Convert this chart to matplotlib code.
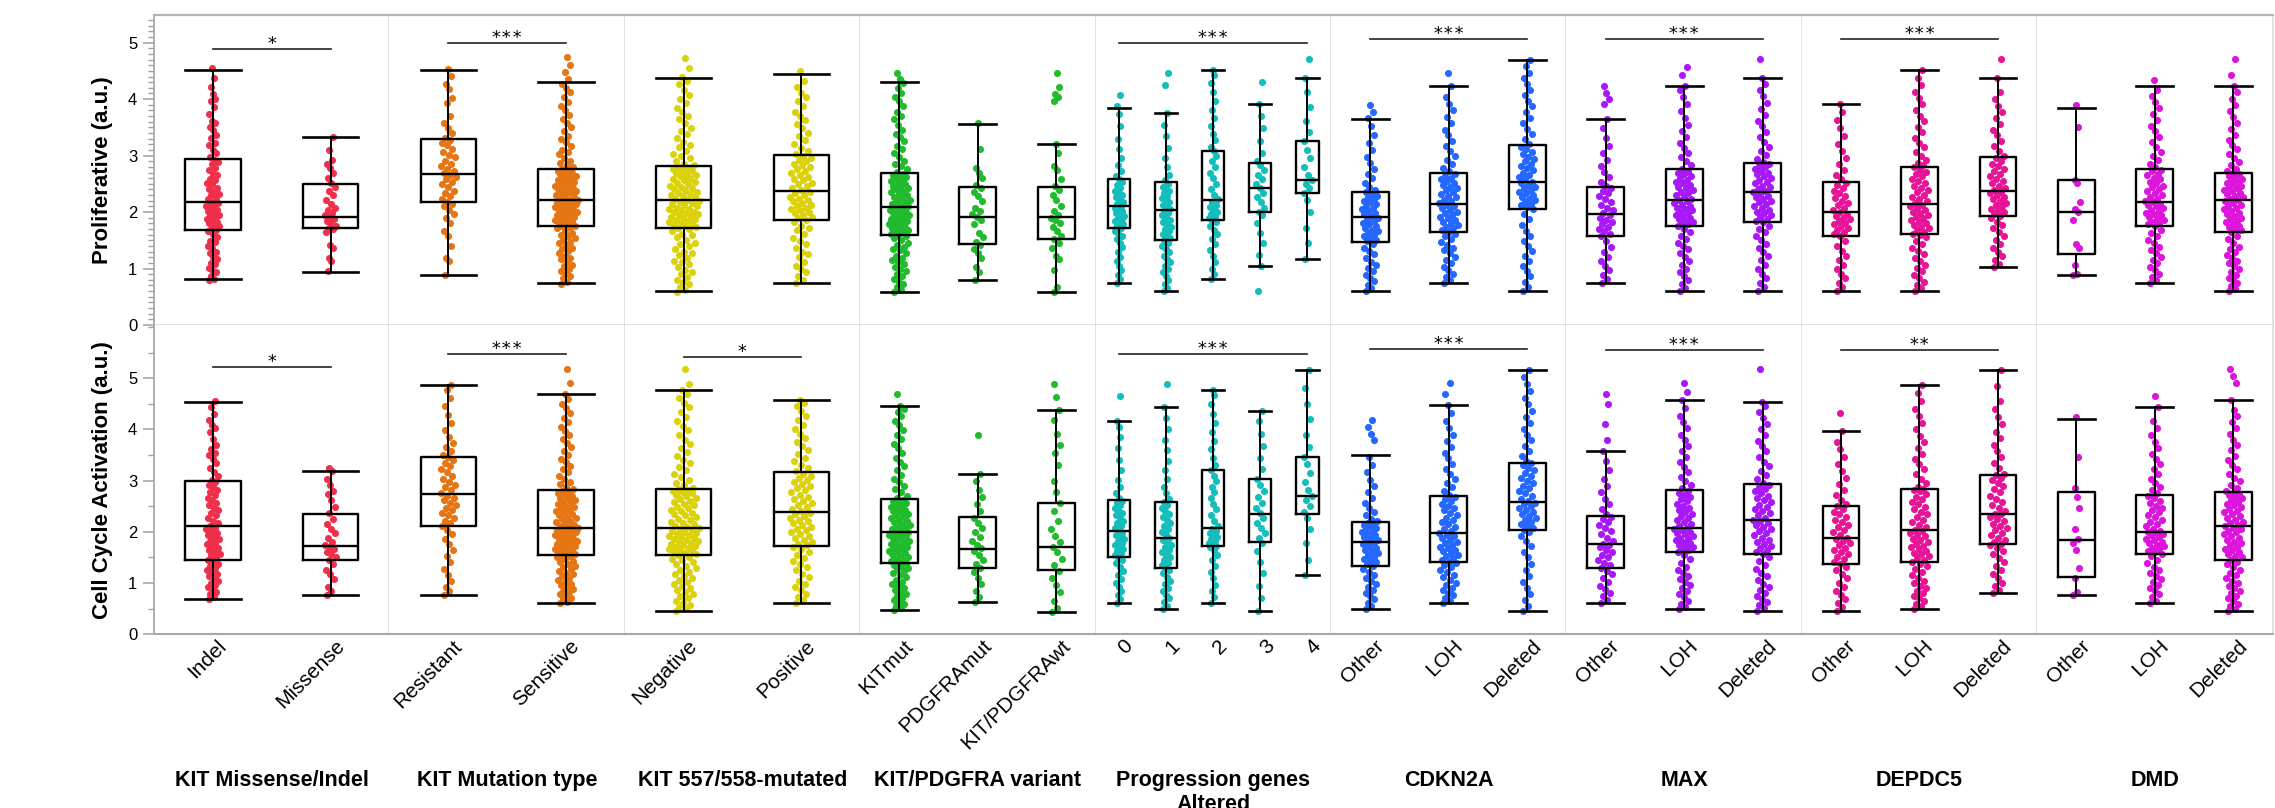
import numpy as np
import matplotlib
matplotlib.use("Agg")
import matplotlib.pyplot as plt
from matplotlib.ticker import MultipleLocator
from matplotlib.transforms import ScaledTranslation

plt.rcParams['font.family'] = ['Liberation Sans', 'DejaVu Sans']


def vals(s):
    # scores are written in hundredths to keep the long strips compact
    return [int(t) / 100 for t in s.split()]


# --- panels / groups ---
panel_titles = ["KIT Missense/Indel", "KIT Mutation type", "KIT 557/558-mutated",
                "KIT/PDGFRA variant", "Progression genes\nAltered", "CDKN2A", "MAX",
                "DEPDC5", "DMD"]
panel_groups = [["Indel", "Missense"], ["Resistant", "Sensitive"], ["Negative", "Positive"],
                ["KITmut", "PDGFRAmut", "KIT/PDGFRAwt"], ["0", "1", "2", "3", "4"],
                ["Other", "LOH", "Deleted"], ["Other", "LOH", "Deleted"],
                ["Other", "LOH", "Deleted"], ["Other", "LOH", "Deleted"]]
panel_colors = ["#F0304A", "#E67514", "#DCD20C", "#22BB2E", "#14BEBC",
                "#2468FF", "#A818F8", "#E81498", "#DC14DC"]

# --- box statistics (whisker low, Q1, median, Q3, whisker high), groups in panel order ---
prolif_lo = [0.81, 0.94, 0.88, 0.74, 0.60, 0.74, 0.59, 0.80, 0.59, 0.74, 0.60, 0.81, 1.05,
             1.16, 0.60, 0.74, 0.60, 0.74, 0.60, 0.60, 0.60, 0.60, 1.02, 0.88, 0.74, 0.60]
prolif_q1 = [1.68, 1.71, 2.17, 1.75, 1.72, 1.86, 1.60, 1.43, 1.53, 1.72, 1.50, 1.86, 2.00,
             2.34, 1.47, 1.65, 2.06, 1.58, 1.75, 1.82, 1.58, 1.61, 1.93, 1.26, 1.75, 1.65]
prolif_med = [2.17, 1.92, 2.67, 2.21, 2.21, 2.38, 2.09, 1.92, 1.92, 2.11, 2.04, 2.21, 2.42,
              2.56, 1.92, 2.15, 2.53, 1.97, 2.21, 2.35, 2.00, 2.14, 2.38, 2.00, 2.18, 2.21]
prolif_q3 = [2.94, 2.49, 3.30, 2.77, 2.81, 3.01, 2.69, 2.44, 2.44, 2.59, 2.53, 3.09, 2.87,
             3.26, 2.35, 2.70, 3.19, 2.45, 2.76, 2.87, 2.53, 2.80, 2.98, 2.56, 2.76, 2.70]
prolif_hi = [4.51, 3.33, 4.51, 4.31, 4.38, 4.45, 4.30, 3.56, 3.21, 3.85, 3.75, 4.51, 3.92,
             4.38, 3.65, 4.24, 4.69, 3.65, 4.24, 4.38, 3.92, 4.51, 4.38, 3.85, 4.24, 4.24]

cell_lo = [0.69, 0.76, 0.76, 0.61, 0.46, 0.61, 0.48, 0.63, 0.44, 0.61, 0.50, 0.61, 0.46,
           1.15, 0.50, 0.61, 0.46, 0.61, 0.49, 0.46, 0.46, 0.50, 0.80, 0.76, 0.61, 0.46]
cell_q1 = [1.46, 1.46, 2.11, 1.54, 1.54, 1.73, 1.40, 1.29, 1.25, 1.50, 1.30, 1.73, 1.80,
           2.35, 1.34, 1.42, 2.04, 1.30, 1.61, 1.57, 1.38, 1.42, 1.76, 1.11, 1.57, 1.46]
cell_med = [2.11, 1.73, 2.74, 2.08, 2.08, 2.39, 1.99, 1.67, 1.71, 2.01, 1.89, 2.08, 2.35,
            2.70, 1.81, 1.97, 2.58, 1.77, 2.08, 2.23, 1.89, 2.04, 2.35, 1.85, 2.00, 2.12]
cell_q3 = [3.00, 2.35, 3.47, 2.81, 2.84, 3.16, 2.64, 2.29, 2.57, 2.62, 2.58, 3.20, 3.04,
           3.47, 2.19, 2.70, 3.35, 2.31, 2.81, 2.93, 2.51, 2.84, 3.12, 2.77, 2.73, 2.77]
cell_hi = [4.54, 3.19, 4.86, 4.70, 4.77, 4.58, 4.45, 3.14, 4.38, 4.17, 4.43, 4.77, 4.36,
           5.16, 3.50, 4.47, 5.16, 3.58, 4.58, 4.54, 3.97, 4.86, 5.16, 4.20, 4.43, 4.58]

# --- significance bars: panel index, bar height, label ---
prolif_sig_panel = [0, 1, 4, 5, 6, 7]
prolif_sig_y = [4.88, 4.99, 4.99, 5.07, 5.06, 5.06]
prolif_sig_txt = ["*", "***", "***", "***", "***", "***"]
cell_sig_panel = [0, 1, 2, 4, 5, 6, 7]
cell_sig_y = [5.22, 5.48, 5.42, 5.48, 5.57, 5.56, 5.56]
cell_sig_txt = ["*", "***", "*", "***", "***", "***", "**"]

# --- sample values, Proliferative score ---
p_indel = vals("""80 82 87 93 95 101 108 110 117 120 128 130 137 140 147 149 156 161 166
  168 170 175 176 181 183 186 187 191 194 195 199 202 204 208 210 213 214 216
  218 223 225 230 232 237 241 243 249 251 257 259 266 268 275 278 285 288 293
  297 305 310 319 323 332 337 345 351 358 362 374 386 397 401 409 421 437 455""")
p_missense = vals("""95 113 118 137 141 164 170 172 176 180 184 188 191 194 198 203 208 215
  222 230 238 245 252 261 270 278 286 293 310 333""")
p_resistant = vals("""88 113 119 140 157 166 181 190 196 204 211 215 218 223 229 233 238
  244 249 254 258 262 266 269 272 277 281 286 291 297 301 306 312 318 322 327 331 340
  349 358 371 393 402 418 427 441 453""")
p_sensitive = vals("""73 77 83 86 90 95 100 104 107 112 117 119 122 127 131 134 136 141 145
  147 150 154 158 160 163 167 171 173 175 176 179 180 183 184 186 188 189 192 193 195 196
  199 200 202 203 206 207 209 211 212 214 215 217 218 220 221 222 225 226 229 230 233 234
  237 238 241 243 244 247 248 251 253 255 256 259 261 263 264 267 269 270 273 275 276 279
  284 287 290 296 302 306 310 317 324 329 335 343 351 357 364 372 381 388 395 404 413 420
  427 436 448 461 474""")
p_negative = vals("""58 62 67 72 76 79 85 90 94 97 103 108 111 114 119 124 127 130 135 140
  143 146 151 156 159 162 166 170 172 174 176 177 179 181 183 184 186 188 189 191 193 195
  196 198 200 201 203 205 206 208 210 212 214 216 218 220 222 224 226 228 230 232 234 236
  239 241 243 245 247 250 252 254 256 259 261 263 265 267 270 272 274 276 278 280 283 286
  291 296 299 303 309 315 319 324 331 338 343 349 357 365 371 377 385 394 401 408 417 426
  433 440 455 473""")
p_positive = vals("""74 80 87 93 99 105 112 120 125 130 137 144 149 154 161 168 172 176 182
  186 189 191 194 198 200 203 205 208 211 213 216 219 222 224 227 230 233 236 239 242 246
  249 252 256 259 262 266 269 272 276 279 283 286 290 293 296 299 303 309 314 321 328 334
  340 349 356 363 371 378 387 396 403 411 421 433 450""")
p_kitmut = vals("""58 62 68 72 77 81 86 91 96 99 103 108 111 115 118 123 127 132 135 139
  142 146 150 154 157 160 162 164 166 168 170 172 174 176 178 180 182 184 186 188 190 192
  194 196 198 200 202 204 206 208 210 212 215 217 220 222 225 227 230 232 235 237 240 242
  245 247 250 252 255 257 260 262 264 266 268 271 276 282 286 291 298 305 311 317 325 333
  339 346 355 364 371 378 387 396 403 411 419 428 435 446""")
p_pdgfra = vals("""80 94 102 118 127 134 141 147 156 163 179 186 191 196 202 208 219 228
  236 242 248 261 270 278 312 358""")
p_wt = vals("""59 68 98 116 122 136 145 152 158 166 173 181 186 190 195 202 210 222 231 239
  246 258 274 281 305 320 397 404 409 422 447""")
p_prog0 = vals("""74 81 88 97 104 113 121 130 138 146 153 158 163 167 172 175 178 181 184
  187 190 193 196 199 202 205 208 211 214 218 222 226 230 234 238 243 248 253 258 264 272
  283 296 311 330 352 373 387 408""")
p_prog1 = vals("""60 66 73 80 86 93 99 105 111 117 123 129 135 140 145 150 154 158 162 166
  170 174 178 182 186 190 194 198 201 205 209 213 217 221 225 229 233 237 241 245 249 256
  266 280 296 314 334 354 375 425 447""")
p_prog2 = vals("""81 90 100 111 122 133 143 152 161 169 176 182 186 189 193 197 201 205 209
  213 217 223 231 240 250 260 270 280 290 300 308 316 327 339 352 366 381 396 412 428 443
  451""")
p_prog3 = vals("""61 105 124 145 163 180 194 200 208 217 226 234 242 250 258 266 275 283 291
  305 325 348 370 392 431""")
p_prog4 = vals("""116 145 172 200 222 234 242 250 256 266 280 295 310 326 342 362 386 412 438
  471""")
p_cdkn_other = vals("""60 65 71 78 83 89 96 101 107 112 119 126 131 137 143 148 151 154 157
  160 163 166 169 172 175 178 181 184 187 190 193 196 199 202 205 208 211 214 217 220 223
  226 229 232 235 239 245 252 260 268 277 287 298 310 323 337 352 366 378 389""")
p_cdkn_loh = vals("""74 79 85 91 97 103 109 115 121 127 132 137 142 147 152 157 161 165 168
  171 174 177 180 183 186 189 192 195 198 201 204 207 210 213 216 219 222 226 229 232 235
  239 242 245 248 252 255 258 261 264 268 272 278 285 292 300 308 317 326 336 346 357 368
  380 392 404 424 447""")
p_cdkn_del = vals("""60 68 77 86 95 104 113 122 131 140 149 158 167 177 187 197 206 209 212
  215 218 221 224 227 230 233 236 239 242 245 248 251 254 258 262 266 270 274 278 282 286
  290 294 298 302 306 311 316 321 329 338 347 357 367 377 387 397 407 417 427 437 447 458
  469""")
p_max_other = vals("""74 81 89 97 105 113 121 130 139 149 158 162 166 170 174 178 182 186
  190 194 198 203 208 213 218 223 228 233 238 243 247 254 262 271 281 292 304 317 331 349
  365 392 401 410 424""")
p_max_loh = vals("""60 66 72 79 86 93 100 107 114 121 128 134 140 146 152 158 164 170 175
  178 180 183 185 188 190 193 195 198 200 203 205 208 210 213 216 219 221 224 227 230 233
  236 239 242 245 248 251 254 257 261 264 267 270 273 277 283 290 297 305 314 323 333 344
  355 367 379 391 404 416 424 442 457""")
p_max_del = vals("""60 67 75 83 91 99 107 115 122 129 136 143 150 157 164 170 176 182 185
  188 191 195 198 201 204 207 210 214 217 220 223 226 229 232 235 238 241 244 247 251 254
  257 260 263 267 270 273 276 279 282 285 288 294 301 308 316 324 333 342 352 362 372 383
  394 405 416 427 438 471""")
p_dep_other = vals("""60 67 75 83 91 99 107 115 123 131 140 149 158 161 165 168 172 175 178
  181 184 187 190 193 197 200 204 208 212 216 220 225 229 234 238 243 248 252 258 266 275
  285 296 308 321 335 349 363 377 392""")
p_dep_loh = vals("""60 65 71 77 83 89 95 101 107 113 119 125 131 137 143 149 155 159 162
  165 168 171 174 177 180 183 186 189 192 195 198 201 204 207 210 213 216 219 223 227 231
  235 239 243 247 251 255 259 263 267 271 275 279 283 287 293 300 307 315 323 332 341 351
  361 371 381 391 402 413 425 438 451""")
p_dep_del = vals("""102 108 115 122 129 136 143 150 157 164 171 177 183 189 193 196 200 203
  206 210 213 216 220 223 227 230 233 236 239 243 247 251 255 259 263 267 272 276 281 286
  291 296 300 308 317 326 336 346 356 366 377 388 400 412 438 471""")
p_dmd_other = vals("88 90 107 136 144 186 200 205 218 252 257 350 389")
p_dmd_loh = vals("""74 79 85 91 97 103 109 115 121 127 133 139 145 151 157 163 169 175 178
  180 183 186 188 191 194 196 199 202 204 207 210 212 215 217 219 223 226 230 233 237 240
  244 247 251 254 258 261 265 268 272 275 279 285 292 299 307 315 324 333 343 353 363 373
  384 395 406 417 434""")
p_dmd_del = vals("""60 64 69 74 79 84 89 94 99 104 109 114 119 124 129 134 139 146 152 158
  165 168 170 173 176 179 182 184 187 190 193 196 199 202 205 207 210 213 216 219 222 224
  227 229 232 234 237 239 242 244 247 249 252 254 257 259 262 264 267 269 272 277 283 289
  296 303 311 319 328 337 347 357 368 379 390 401 412 423 442 471""")

# --- sample values, Cell Cycle Activation score ---
c_indel = vals("""69 73 78 83 88 93 97 101 105 109 113 117 121 125 130 134 138 142 146 150
  154 157 161 165 168 172 176 179 183 187 190 194 198 201 205 208 212 217 222 227 232 237
  242 247 252 257 262 267 272 277 282 287 292 297 302 309 317 325 334 343 351 355 361 370
  382 395 402 409 418 430 443 455""")
c_missense = vals("""76 85 93 108 117 126 138 145 150 156 161 166 170 174 180 188 197 206
  216 226 236 248 262 274 280 292 303 319 325""")
c_resistant = vals("""76 84 93 104 116 128 141 153 165 176 186 195 204 212 217 222 227 232
  237 242 247 252 257 262 267 271 276 281 287 292 298 304 310 316 322 328 334 340 346 350
  357 365 374 385 398 412 428 446 462 478 486""")
c_sensitive = vals("""61 64 68 71 75 78 82 85 89 92 96 99 103 106 110 113 117 120 124 127
  131 134 138 141 144 147 150 152 155 157 159 161 163 165 167 169 171 173 175 177 179 181
  183 185 187 189 191 193 195 197 199 201 203 205 206 207 209 212 214 217 219 222 225 227
  230 233 235 238 241 243 246 249 251 254 257 259 262 265 267 270 273 275 278 280 283 288
  293 298 304 310 316 322 329 336 343 350 357 365 373 381 389 397 405 414 423 432 441 450
  460 470 490 518""")
c_negative = vals("""46 50 54 58 62 66 70 74 78 82 86 90 94 98 102 106 110 114 118 122 126
  130 134 138 142 145 148 151 154 156 158 160 162 164 166 168 170 172 174 176 178 180 182
  184 186 188 190 192 194 196 198 200 202 204 206 207 209 212 215 217 220 223 226 229 232
  234 237 240 243 246 249 252 255 258 261 264 267 270 272 275 277 279 281 283 286 291 296
  302 308 314 320 327 334 341 348 356 364 372 380 389 398 407 416 425 434 443 452 461 470
  477 488 518""")
c_positive = vals("""61 67 73 79 86 92 99 105 112 118 125 131 137 143 149 155 161 166 170
  174 177 181 185 188 192 196 199 203 206 210 213 217 221 224 228 231 234 237 240 244 248
  252 256 261 265 269 273 277 281 285 289 294 298 302 306 310 314 318 324 331 338 345 352
  360 368 376 384 392 400 409 418 427 436 445 452 458""")
c_kitmut = vals("""48 51 55 59 63 67 71 75 79 83 87 91 95 99 103 107 111 115 119 123 127
  130 133 136 139 141 143 146 148 151 153 156 158 161 163 166 168 171 173 176 178 181 183
  186 188 190 192 194 196 198 200 203 205 208 211 213 216 219 221 224 227 229 232 235 237
  240 243 245 248 251 253 256 259 261 263 266 271 277 283 290 297 304 312 320 328 336 345
  354 363 372 381 390 399 408 417 426 435 440 445 469""")
c_pdgfra = vals("""63 72 85 98 110 122 130 138 146 155 163 168 174 182 190 199 208 218 228
  240 254 268 282 300 314 390""")
c_wt = vals("""44 52 66 82 96 110 124 136 148 160 170 180 192 206 222 240 256 278 300 330
  355 370 392 418 438 464 488""")
c_prog0 = vals("""61 68 76 84 92 100 108 116 124 132 139 145 150 154 158 162 166 170 174
  178 182 186 190 194 198 202 207 212 217 222 227 232 237 242 247 252 257 261 266 275 287
  302 320 341 363 385 405 417 465""")
c_prog1 = vals("""50 56 63 70 77 84 91 98 105 112 119 125 130 135 140 145 150 155 160 165
  170 175 180 185 189 193 199 205 211 217 223 229 235 241 247 253 258 264 275 288 303 320
  339 359 380 401 422 443 488""")
c_prog2 = vals("""61 72 84 97 110 122 134 145 155 164 170 173 176 179 182 186 190 194 198
  202 206 212 222 233 244 255 266 277 288 299 310 320 330 345 361 378 395 413 431 449 467
  477""")
c_prog3 = vals("""46 70 95 120 142 162 178 188 198 208 218 228 236 246 256 268 280 292 304
  322 344 368 392 416 436""")
c_prog4 = vals("""115 145 178 205 228 238 250 262 270 282 298 315 332 347 366 390 420 450 480
  516""")
c_cdkn_other = vals("""50 56 62 68 74 80 86 92 98 104 110 116 122 128 134 137 141 144 148
  151 155 158 162 165 169 172 176 179 181 184 187 190 193 196 199 202 205 208 211 214 216
  218 221 226 232 239 247 256 266 277 289 302 316 331 346 380 392 405 419""")
c_cdkn_loh = vals("""61 66 71 76 81 86 91 96 101 106 111 116 121 126 131 135 139 142 145
  149 152 155 158 162 165 168 171 175 178 181 184 188 191 194 197 201 206 210 215 219 224
  228 233 237 242 246 251 255 260 264 268 272 279 287 295 304 313 323 333 344 355 366 378
  390 403 416 432 447 470 490""")
c_cdkn_del = vals("""46 56 67 78 90 102 114 126 138 150 161 172 182 191 199 204 208 212 216
  219 223 227 231 234 238 242 246 250 254 257 260 265 270 275 280 285 290 295 300 305 310
  315 320 325 330 334 339 348 358 368 379 390 401 413 425 437 449 462 475 489 503 516""")
c_max_other = vals("""61 67 74 81 88 95 102 109 117 124 130 135 140 145 150 155 160 165 170
  175 177 183 189 195 201 207 213 219 225 230 235 244 254 265 277 290 304 320 338 358 380
  410 450 470""")
c_max_loh = vals("""49 54 60 66 72 78 84 90 96 102 108 114 120 126 132 139 147 155 161 164
  167 170 172 175 178 181 184 186 189 192 195 198 200 203 206 208 211 215 219 223 227 231
  235 239 243 247 251 255 260 264 268 272 276 280 285 292 300 308 317 326 336 346 357 368
  379 390 402 414 426 442 458 474 490""")
c_max_del = vals("""46 51 57 63 69 75 81 87 93 99 106 113 120 127 135 143 151 157 161 165
  169 173 177 181 185 189 193 197 201 205 209 213 217 221 224 228 232 236 240 245 249 253
  258 262 267 271 276 280 284 288 292 296 303 311 319 328 337 347 357 367 378 389 400 411
  422 434 446 454 518""")
c_dep_other = vals("""46 53 61 69 77 85 93 101 109 117 125 132 138 142 147 151 156 160 165
  169 174 178 183 187 189 194 199 204 209 214 219 224 229 234 239 244 250 255 263 272 282
  293 305 318 332 346 361 376 397 432""")
c_dep_loh = vals("""50 55 60 65 70 75 80 85 90 95 100 105 110 115 121 127 133 138 142 145
  149 152 156 159 163 166 170 173 177 180 184 187 191 194 198 201 204 209 214 219 224 229
  234 239 244 249 254 259 264 269 274 279 282 284 288 296 304 313 322 332 342 353 364 376
  388 400 413 426 440 455 471 486""")
c_dep_del = vals("""80 87 94 101 109 117 125 133 141 149 156 163 169 174 176 180 185 189 194
  198 203 207 212 216 221 225 230 234 235 241 247 253 259 265 271 277 283 289 295 301 306
  311 314 324 335 346 358 370 383 396 410 424 439 455 485 516""")
c_dmd_other = vals("76 83 110 129 165 179 186 205 247 269 285 347 424")
c_dmd_loh = vals("""61 66 72 78 84 90 96 102 108 114 120 126 132 139 146 153 157 160 163
  166 169 172 175 178 181 184 187 190 193 195 197 199 202 206 211 215 220 224 229 233 238
  242 247 251 256 261 266 271 275 281 288 296 304 313 322 332 342 353 364 376 389 402 416
  443 465""")
c_dmd_del = vals("""46 50 55 60 65 70 75 80 85 90 95 100 105 110 115 120 125 131 137 142
  146 150 153 157 160 164 167 171 174 178 181 185 188 192 195 199 202 205 208 211 213 217
  220 224 227 231 234 238 241 245 248 252 255 259 262 266 269 272 274 276 279 285 292 299
  306 314 322 331 340 349 359 369 380 391 402 414 426 438 458 490 505 518""")

prolif_points = [p_indel, p_missense, p_resistant, p_sensitive, p_negative, p_positive,
                 p_kitmut, p_pdgfra, p_wt, p_prog0, p_prog1, p_prog2, p_prog3, p_prog4,
                 p_cdkn_other, p_cdkn_loh, p_cdkn_del, p_max_other, p_max_loh, p_max_del,
                 p_dep_other, p_dep_loh, p_dep_del, p_dmd_other, p_dmd_loh, p_dmd_del]
cell_points = [c_indel, c_missense, c_resistant, c_sensitive, c_negative, c_positive,
               c_kitmut, c_pdgfra, c_wt, c_prog0, c_prog1, c_prog2, c_prog3, c_prog4,
               c_cdkn_other, c_cdkn_loh, c_cdkn_del, c_max_other, c_max_loh, c_max_del,
               c_dep_other, c_dep_loh, c_dep_del, c_dmd_other, c_dmd_loh, c_dmd_del]

# --- layout (pixels of the 2275 x 808 canvas) ---
W, H = 2275, 808
LEFT, PANEL_W = 154, 235.4
ROWS = [(15, 325), (325, 634.3)]
SPREAD = [[7, 6], [8, 12], [16, 12], [11, 6, 6], [5, 5, 5, 5, 5],
          [9, 10, 9], [8, 10, 10], [9, 10, 9], [4, 10, 10]]
BOX_W = 0.47
GRAY = "#A8A8A8"
LIGHT = "#DDDDDD"


def jitter(v, center, spread_px, n_groups):
    v = np.sort(np.asarray(v, dtype=float))
    dens = np.exp(-0.5 * ((v[:, None] - v[None, :]) / 0.3) ** 2).sum(axis=1)
    dens = dens / dens.max()
    u = (np.arange(len(v)) * 0.618034) % 1.0 * 2 - 1
    units = spread_px * n_groups / PANEL_W
    return center + u * units * (0.25 + 0.75 * dens), v


fig = plt.figure(figsize=(W / 100, H / 100), dpi=100)

rows = [
    (prolif_points, [prolif_lo, prolif_q1, prolif_med, prolif_q3, prolif_hi],
     (prolif_sig_panel, prolif_sig_y, prolif_sig_txt), 5.49, 0.1, "Proliferative (a.u.)"),
    (cell_points, [cell_lo, cell_q1, cell_med, cell_q3, cell_hi],
     (cell_sig_panel, cell_sig_y, cell_sig_txt), 6.04, 0.5, "Cell Cycle Activation (a.u.)"),
]

for r, (points, stats, sig, ytop, minor, ylabel) in enumerate(rows):
    y0, y1 = ROWS[r]
    k = 0
    for p, groups in enumerate(panel_groups):
        ng = len(groups)
        ax = fig.add_axes([(LEFT + p * PANEL_W) / W, 1 - y1 / H, PANEL_W / W, (y1 - y0) / H])
        ax.set_xlim(-0.5, ng - 0.5)
        ax.set_ylim(0, ytop)
        bstats = []
        for g in range(ng):
            xs, ys = jitter(points[k + g], g, SPREAD[p][g], ng)
            ax.scatter(xs, ys, s=26, color=panel_colors[p], linewidths=0, zorder=2)
            bstats.append(dict(whislo=stats[0][k + g], q1=stats[1][k + g], med=stats[2][k + g],
                               q3=stats[3][k + g], whishi=stats[4][k + g], fliers=[]))
        k += ng
        ax.bxp(bstats, positions=range(ng), widths=BOX_W, capwidths=BOX_W,
               showfliers=False, manage_ticks=False,
               boxprops=dict(color="black", linewidth=1.7),
               medianprops=dict(color="black", linewidth=1.7),
               whiskerprops=dict(color="black", linewidth=1.4),
               capprops=dict(color="black", linewidth=1.9), zorder=3)

        # significance bar
        if p in sig[0]:
            i = sig[0].index(p)
            ax.plot([0, ng - 1], [sig[1][i]] * 2, color="#222222", lw=1.2, zorder=4)
            ax.annotate(sig[2][i], xy=((ng - 1) / 2, sig[1][i]), xytext=(0, 0),
                        textcoords="offset points", ha="center", va="baseline",
                        fontsize=13, family="DejaVu Sans Mono", zorder=4)

        # frame
        for s in ax.spines.values():
            s.set_visible(False)
        ax.spines["right"].set_visible(True)
        ax.spines["right"].set_color(LIGHT)
        ax.spines["right"].set_linewidth(1.2)
        if r == 0:
            ax.spines["top"].set_visible(True)
            ax.spines["top"].set_color("#B4B4B4")
            ax.spines["top"].set_linewidth(1.6)
            ax.spines["bottom"].set_visible(True)
            ax.spines["bottom"].set_color(LIGHT)
            ax.spines["bottom"].set_linewidth(1.2)
        else:
            ax.spines["bottom"].set_visible(True)
            ax.spines["bottom"].set_color(GRAY)
            ax.spines["bottom"].set_linewidth(1.5)

        if p == 0:
            ax.spines["left"].set_visible(True)
            ax.spines["left"].set_color(GRAY)
            ax.spines["left"].set_linewidth(1.3)
            ax.set_yticks([0, 1, 2, 3, 4, 5])
            ax.yaxis.set_minor_locator(MultipleLocator(minor))
            ax.tick_params(axis="y", which="major", length=8, width=1.1, color="#A0A0A0",
                           labelsize=12, pad=4)
            ax.tick_params(axis="y", which="minor", length=4, width=1.0, color="#A0A0A0")
            fig.text(102.7 / W, 1 - (y0 + y1) / 2 / H, ylabel, rotation=90, ha="center",
                     va="center", fontsize=16, fontweight="bold")
        else:
            ax.set_yticks([])
            ax.tick_params(axis="y", which="both", left=False, labelleft=False)

        if r == 1:
            ax.set_xticks(range(ng))
            ax.set_xticklabels(groups)
            ax.tick_params(axis="x", length=0, pad=1.5, labelsize=15)
            off = ScaledTranslation(4 / 100, 0, fig.dpi_scale_trans)
            for lbl in ax.get_xticklabels():
                lbl.set_rotation(45)
                lbl.set_ha("right")
                lbl.set_va("top")
                lbl.set_rotation_mode("anchor")
                lbl.set_transform(lbl.get_transform() + off)
            fig.text((LEFT + (p + 0.5) * PANEL_W) / W, 1 - 770 / H, panel_titles[p],
                     ha="center", va="top", fontsize=15.5, fontweight="bold")
        else:
            ax.set_xticks([])

fig.savefig("out.png", dpi=100)
